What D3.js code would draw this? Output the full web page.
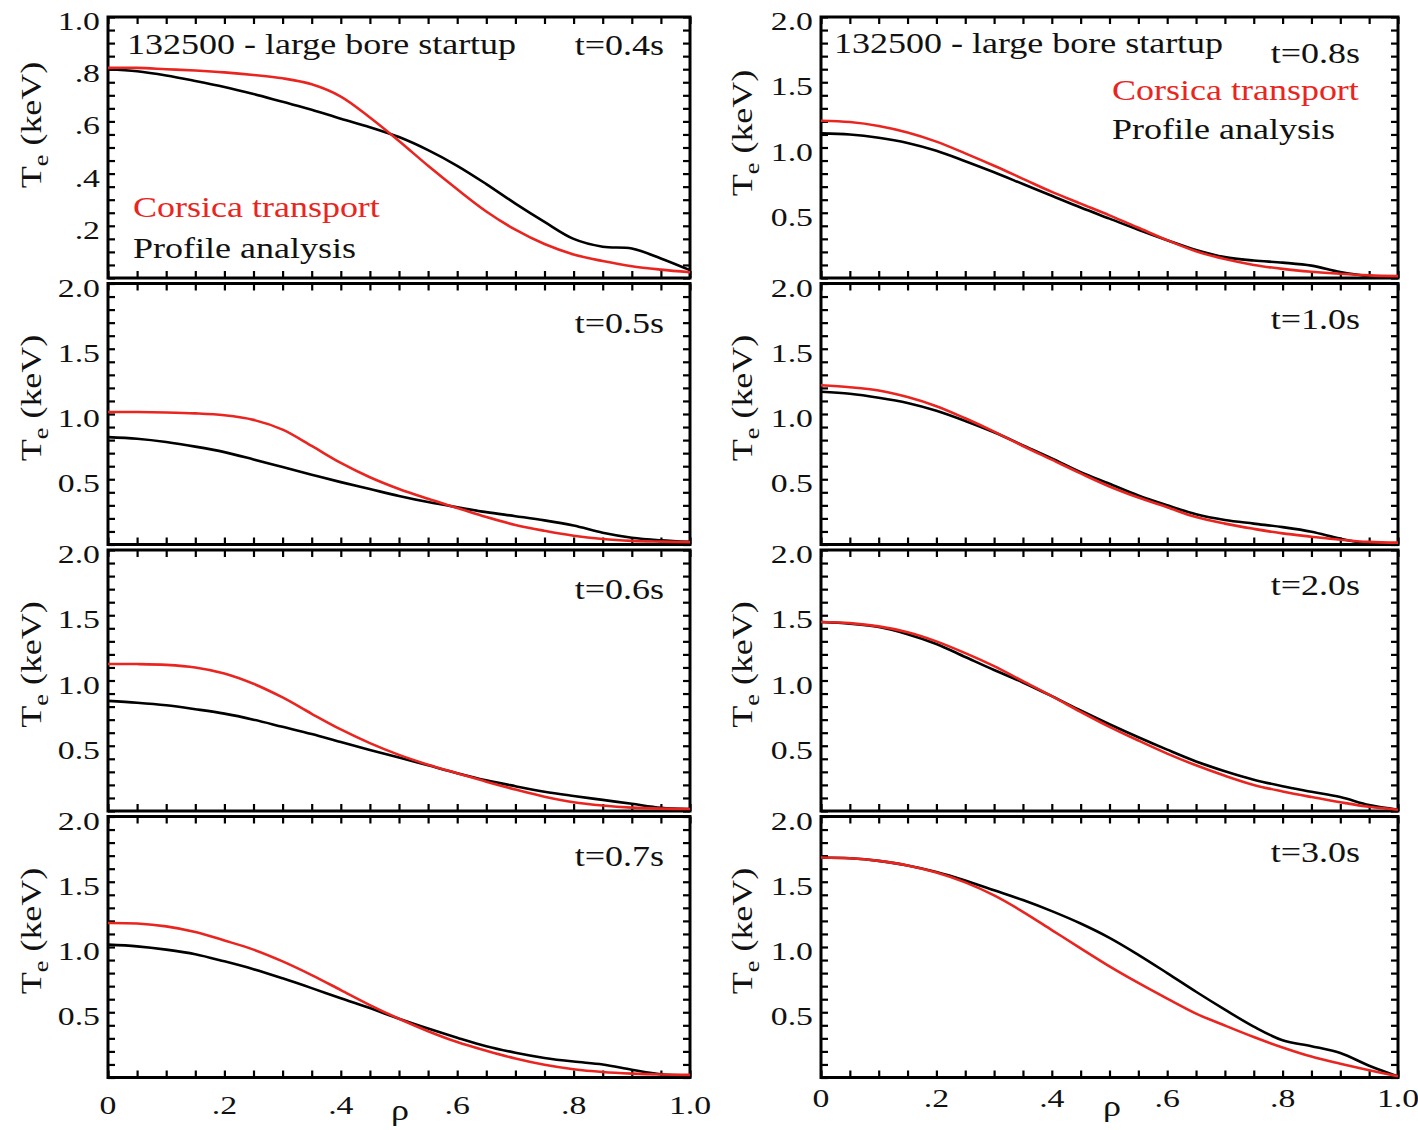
<!DOCTYPE html>
<html>
<head>
<meta charset="utf-8">
<script src="https://cdn.jsdelivr.net/npm/d3@7"></script>
<style>
  body { margin: 0; background: #fff; }
  text { font-family: "Liberation Serif", "Times New Roman", serif; fill: #111; }
</style>
</head>
<body>
<svg id="chart" width="1418" height="1130"></svg>
<script>
// normalised radius, shared by every profile
var rho = [0, 0.05, 0.1, 0.15, 0.2, 0.25, 0.3, 0.35, 0.4, 0.45, 0.5,
           0.55, 0.6, 0.65, 0.7, 0.75, 0.8, 0.85, 0.9, 0.95, 1.0];

// Te (keV), Corsica transport (red) and profile analysis (black)
var corsica04 = [.805, .805, .80, .795, .788, .778, .765, .742, .695, .615, .525, .43, .34, .255, .185, .13, .09, .065, .045, .032, .022];
var profile04 = [.80, .792, .776, .755, .732, .705, .675, .645, .61, .578, .54, .49, .43, .36, .285, .215, .15, .12, .113, .075, .03];
var corsica05 = [1.015, 1.015, 1.012, 1.005, .99, .955, .88, .755, .625, .515, .425, .35, .28, .21, .15, .105, .067, .042, .028, .022, .018];
var profile05 = [.823, .81, .785, .75, .708, .652, .593, .535, .478, .425, .372, .325, .285, .248, .217, .185, .145, .09, .052, .032, .02];
var corsica06 = [1.126, 1.126, 1.12, 1.10, 1.054, .975, .87, .745, .625, .52, .43, .355, .29, .225, .165, .11, .067, .042, .026, .018, .015];
var profile06 = [.844, .83, .81, .78, .746, .70, .645, .59, .528, .468, .41, .35, .29, .235, .19, .148, .115, .085, .055, .025, .015];
var corsica07 = [1.184, 1.18, 1.158, 1.115, 1.05, .98, .89, .785, .67, .555, .45, .355, .272, .205, .145, .097, .063, .042, .03, .023, .02];
var profile07 = [1.018, 1.005, .98, .945, .89, .83, .76, .685, .607, .532, .45, .375, .305, .24, .19, .15, .122, .10, .06, .025, .015];
var corsica08 = [1.205, 1.195, 1.165, 1.115, 1.045, .955, .86, .76, .66, .57, .48, .385, .29, .205, .145, .10, .07, .048, .032, .02, .014];
var profile08 = [1.108, 1.10, 1.075, 1.035, .975, .895, .81, .72, .63, .54, .455, .37, .29, .215, .16, .134, .118, .095, .046, .015, .012];
var corsica10 = [1.22, 1.205, 1.18, 1.13, 1.06, .967, .865, .755, .65, .545, .445, .36, .285, .21, .16, .12, .085, .06, .037, .02, .014];
var profile10 = [1.17, 1.155, 1.125, 1.085, 1.025, .947, .86, .76, .66, .555, .465, .375, .30, .232, .188, .16, .133, .098, .045, .008, .005];
var corsica20 = [1.448, 1.44, 1.415, 1.37, 1.30, 1.21, 1.11, .995, .88, .76, .645, .54, .44, .35, .27, .20, .15, .107, .067, .032, .01];
var profile20 = [1.448, 1.435, 1.41, 1.355, 1.28, 1.18, 1.08, .985, .88, .77, .665, .565, .47, .38, .305, .24, .19, .148, .107, .045, .01];
var corsica30 = [1.686, 1.68, 1.66, 1.625, 1.57, 1.495, 1.395, 1.27, 1.13, .99, .852, .725, .605, .49, .398, .31, .23, .16, .106, .056, .01];
var profile30 = [1.686, 1.68, 1.66, 1.625, 1.575, 1.51, 1.435, 1.36, 1.275, 1.18, 1.07, .94, .80, .657, .52, .39, .285, .24, .188, .09, .008];

var timeLabels = ["t=0.4s", "t=0.5s", "t=0.6s", "t=0.7s", "t=0.8s", "t=1.0s", "t=2.0s", "t=3.0s"];
var xTickValues = [0, 0.2, 0.4, 0.6, 0.8, 1.0];
var xTickLabels = ["0", ".2", ".4", ".6", ".8", "1.0"];
var yTickValuesSmall = [0.2, 0.4, 0.6, 0.8, 1.0];
var yTickLabelsSmall = [".2", ".4", ".6", ".8", "1.0"];
var yTickValues = [0.5, 1.0, 1.5, 2.0];
var yTickLabels = ["0.5", "1.0", "1.5", "2.0"];
var titleText = "132500 - large bore startup";
var legendNames = ["Corsica transport", "Profile analysis"];

var red = '#ea2520';
var svg = d3.select('#chart');

// panel grid
var colLeft = [108, 821], colWidth = [582, 577];
var rowTop = [17, 283.5, 550, 816.5], rowHeight = 261;

var panels = [
    {col: 0, row: 0, ymax: 1, red: corsica04, black: profile04, label: timeLabels[0]},
    {col: 0, row: 1, ymax: 2, red: corsica05, black: profile05, label: timeLabels[1]},
    {col: 0, row: 2, ymax: 2, red: corsica06, black: profile06, label: timeLabels[2]},
    {col: 0, row: 3, ymax: 2, red: corsica07, black: profile07, label: timeLabels[3]},
    {col: 1, row: 0, ymax: 2, red: corsica08, black: profile08, label: timeLabels[4]},
    {col: 1, row: 1, ymax: 2, red: corsica10, black: profile10, label: timeLabels[5]},
    {col: 1, row: 2, ymax: 2, red: corsica20, black: profile20, label: timeLabels[6]},
    {col: 1, row: 3, ymax: 2, red: corsica30, black: profile30, label: timeLabels[7]}
];

// the original font is wider than Times, so stretch along the text direction
function wideText(x, y, str, size, anchor, fill, sx) {
    return svg.append("text")
        .attr("transform", "translate(" + x + "," + y + ") scale(" + (sx || 1.2) + ",1)")
        .attr("font-size", size)
        .attr("text-anchor", anchor || "start")
        .style("fill", fill || "#111")
        .text(str);
}

panels.forEach(function(p) {
    var left = colLeft[p.col], w = colWidth[p.col];
    var top = rowTop[p.row], bottom = top + rowHeight;

    var x = d3.scaleLinear().domain([0, 1]).range([left, left + w]);
    var y = d3.scaleLinear().domain([0, p.ymax]).range([bottom, top]);

    var minorX = d3.range(0, 1.0001, 0.05);
    var minorY = d3.range(0, p.ymax + 0.0001, p.ymax / 20);

    // inward ticks on all four sides
    var axes = [
        [d3.axisTop(x).tickValues(minorX), "translate(0," + top + ")"],
        [d3.axisBottom(x).tickValues(minorX), "translate(0," + bottom + ")"],
        [d3.axisLeft(y).tickValues(minorY), "translate(" + left + ",0)"],
        [d3.axisRight(y).tickValues(minorY), "translate(" + (left + w) + ",0)"]
    ];
    axes.forEach(function(a) {
        var g = svg.append("g").attr("transform", a[1])
            .call(a[0].tickSize(-7).tickFormat(""));
        g.select(".domain").remove();
        g.selectAll("line").attr("stroke", "#000").attr("stroke-width", 2.2);
    });

    svg.append("rect")
        .attr("x", left).attr("y", top)
        .attr("width", w).attr("height", rowHeight)
        .attr("fill", "none").attr("stroke", "#000").attr("stroke-width", 3);

    var line = d3.line()
        .x(function(d, i) { return x(rho[i]); })
        .y(function(d) { return y(d); })
        .curve(d3.curveCatmullRom.alpha(0.5));

    svg.append("path").datum(p.black)
        .attr("fill", "none").attr("stroke", "#000").attr("stroke-width", 2.6)
        .attr("d", line);
    svg.append("path").datum(p.red)
        .attr("fill", "none").attr("stroke", red).attr("stroke-width", 2.6)
        .attr("d", line);

    // y tick labels
    var tv = p.ymax == 1 ? yTickValuesSmall : yTickValues;
    var tl = p.ymax == 1 ? yTickLabelsSmall : yTickLabels;
    tv.forEach(function(v, i) {
        wideText(left - 8, y(v) + 13, tl[i], 26, "end", "#111", 1.3);
    });

    // y axis title  T_e (keV)
    var labX = p.col == 0 ? 41 : 752;
    var labY = (p.col == 0 && p.row == 0) ? 125 : (p.row == 0 ? 133 : (top + rowHeight / 2 - 16));
    var yl = svg.append("text")
        .attr("transform", "translate(" + labX + "," + labY + ") rotate(-90) scale(1.2,1)")
        .attr("font-size", 30)
        .attr("text-anchor", "middle");
    yl.append("tspan").text("T");
    yl.append("tspan").attr("font-size", 22).attr("dy", 7).text("e");
    yl.append("tspan").attr("dy", -7).text(" (keV)");

    // time stamp
    var tx = p.col == 0 ? left + w - 26 : left + w - 38;
    var ty = p.row == 0 ? (p.col == 0 ? top + 38 : top + 46) : (p.col == 0 ? top + 49 : top + 45);
    wideText(tx, ty, p.label, 30, "end");

    // x tick labels under the bottom row
    if (p.row == 3) {
        var by = p.col == 0 ? 1114 : 1107;
        xTickValues.forEach(function(v, i) {
            wideText(x(v), by, xTickLabels[i], 26, "middle", "#111", 1.3);
        });
        wideText(p.col == 0 ? 400 : 1112, p.col == 0 ? 1120 : 1116, "ρ", 30, "middle");
    }
});

// titles and legends in the top panels
wideText(127, 54, titleText, 30, "start");
wideText(834, 53, titleText, 30, "start");
wideText(133, 217, legendNames[0], 30, "start", red);
wideText(133, 258, legendNames[1], 30, "start");
wideText(1112, 100, legendNames[0], 30, "start", red);
wideText(1112, 139, legendNames[1], 30, "start");
</script>
</body>
</html>
